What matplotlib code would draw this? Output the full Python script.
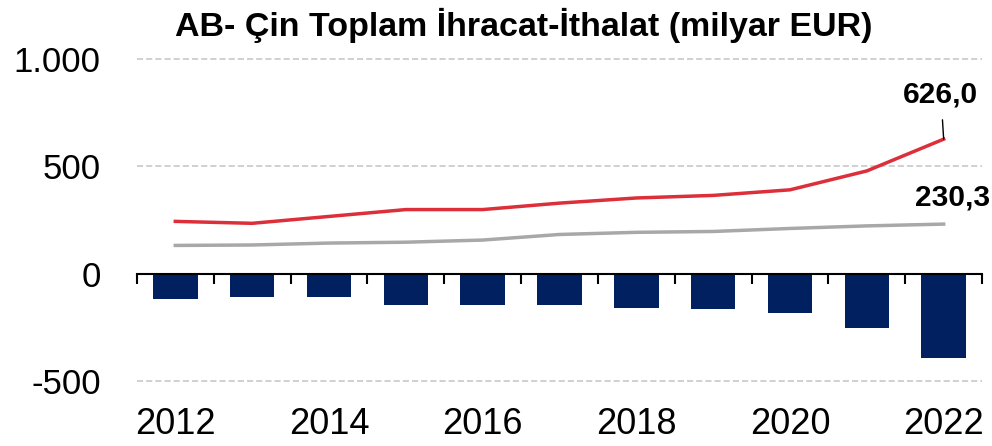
import numpy as np
import matplotlib
matplotlib.use("Agg")
import matplotlib.pyplot as plt

plt.rcParams['font.family'] = ['Liberation Sans', 'DejaVu Sans']

# AB-Cin ticareti, milyar EUR
years = [2012, 2013, 2014, 2015, 2016, 2017, 2018, 2019, 2020, 2021, 2022]
ithalat = [243, 234, 266, 298, 298, 328, 352, 364, 390, 478, 626.0]
ihracat = [131, 133, 142, 146, 156, 182, 192, 196, 210, 222, 230.3]
denge = [-118, -108, -110, -148, -147, -148, -162, -164, -185, -252, -395.7]

yticks = [-500, 0, 500, 1000]
ytick_labels = ['-500', '0', '500', '1.000']

x = np.arange(len(years))

fig = plt.figure(figsize=(9.92, 4.46), dpi=100)
ax = fig.add_axes([0.138, 0.146, 0.852, 0.722])

ax.bar(x, denge, width=0.58, color='#002060', zorder=2)
ax.plot(x, ithalat, color='#DC2F3A', lw=2.5, zorder=3)
ax.plot(x, ihracat, color='#A8A8A8', lw=2.5, zorder=3)

ax.set_xlim(-0.5, len(years) - 0.5)
ax.set_ylim(-500, 1000)
ax.set_yticks(yticks, ytick_labels)
ax.tick_params(axis='y', length=0, labelsize=25, pad=26)
ax.yaxis.grid(True, linestyle=(0, (4, 2)), color='#C4C4C4', lw=1.1)
for gl in ax.get_ygridlines():
    gl.set_clip_on(False)
ax.set_axisbelow(True)

for s in ['left', 'right', 'top']:
    ax.spines[s].set_visible(False)
ax.spines['bottom'].set_position(('data', 0))
ax.spines['bottom'].set_linewidth(1.5)
ax.spines['bottom'].set_zorder(4)
ax.set_xticks([])
ax.set_xticks(np.arange(len(years) + 1) - 0.5, minor=True)
ax.tick_params(axis='x', which='minor', direction='out', length=7, width=1.5)

sec = ax.secondary_xaxis('bottom')
sec.set_xticks(x[::2], [str(y) for y in years[::2]])
sec.tick_params(length=0, labelsize=26, pad=19)
sec.spines['bottom'].set_visible(False)

ax.annotate(f"{ithalat[-1]:.1f}".replace('.', ','), xy=(x[-1], ithalat[-1]),
            xytext=(-2, 32), textcoords='offset points', ha='center', va='center',
            fontsize=21.5, fontweight='bold',
            arrowprops=dict(arrowstyle='-', color='black', lw=1, shrinkA=6, shrinkB=0))
ax.annotate(f"{ihracat[-1]:.1f}".replace('.', ','), xy=(x[-1], ihracat[-1]),
            xytext=(6.5, 19.5), textcoords='offset points', ha='center', va='center',
            fontsize=21.5, fontweight='bold')

fig.text(0.528, 0.944, "AB- Çin Toplam İhracat-İthalat (milyar EUR)",
         ha='center', va='center', fontsize=24.5, fontweight='bold')

fig.savefig('out.png', dpi=100)
